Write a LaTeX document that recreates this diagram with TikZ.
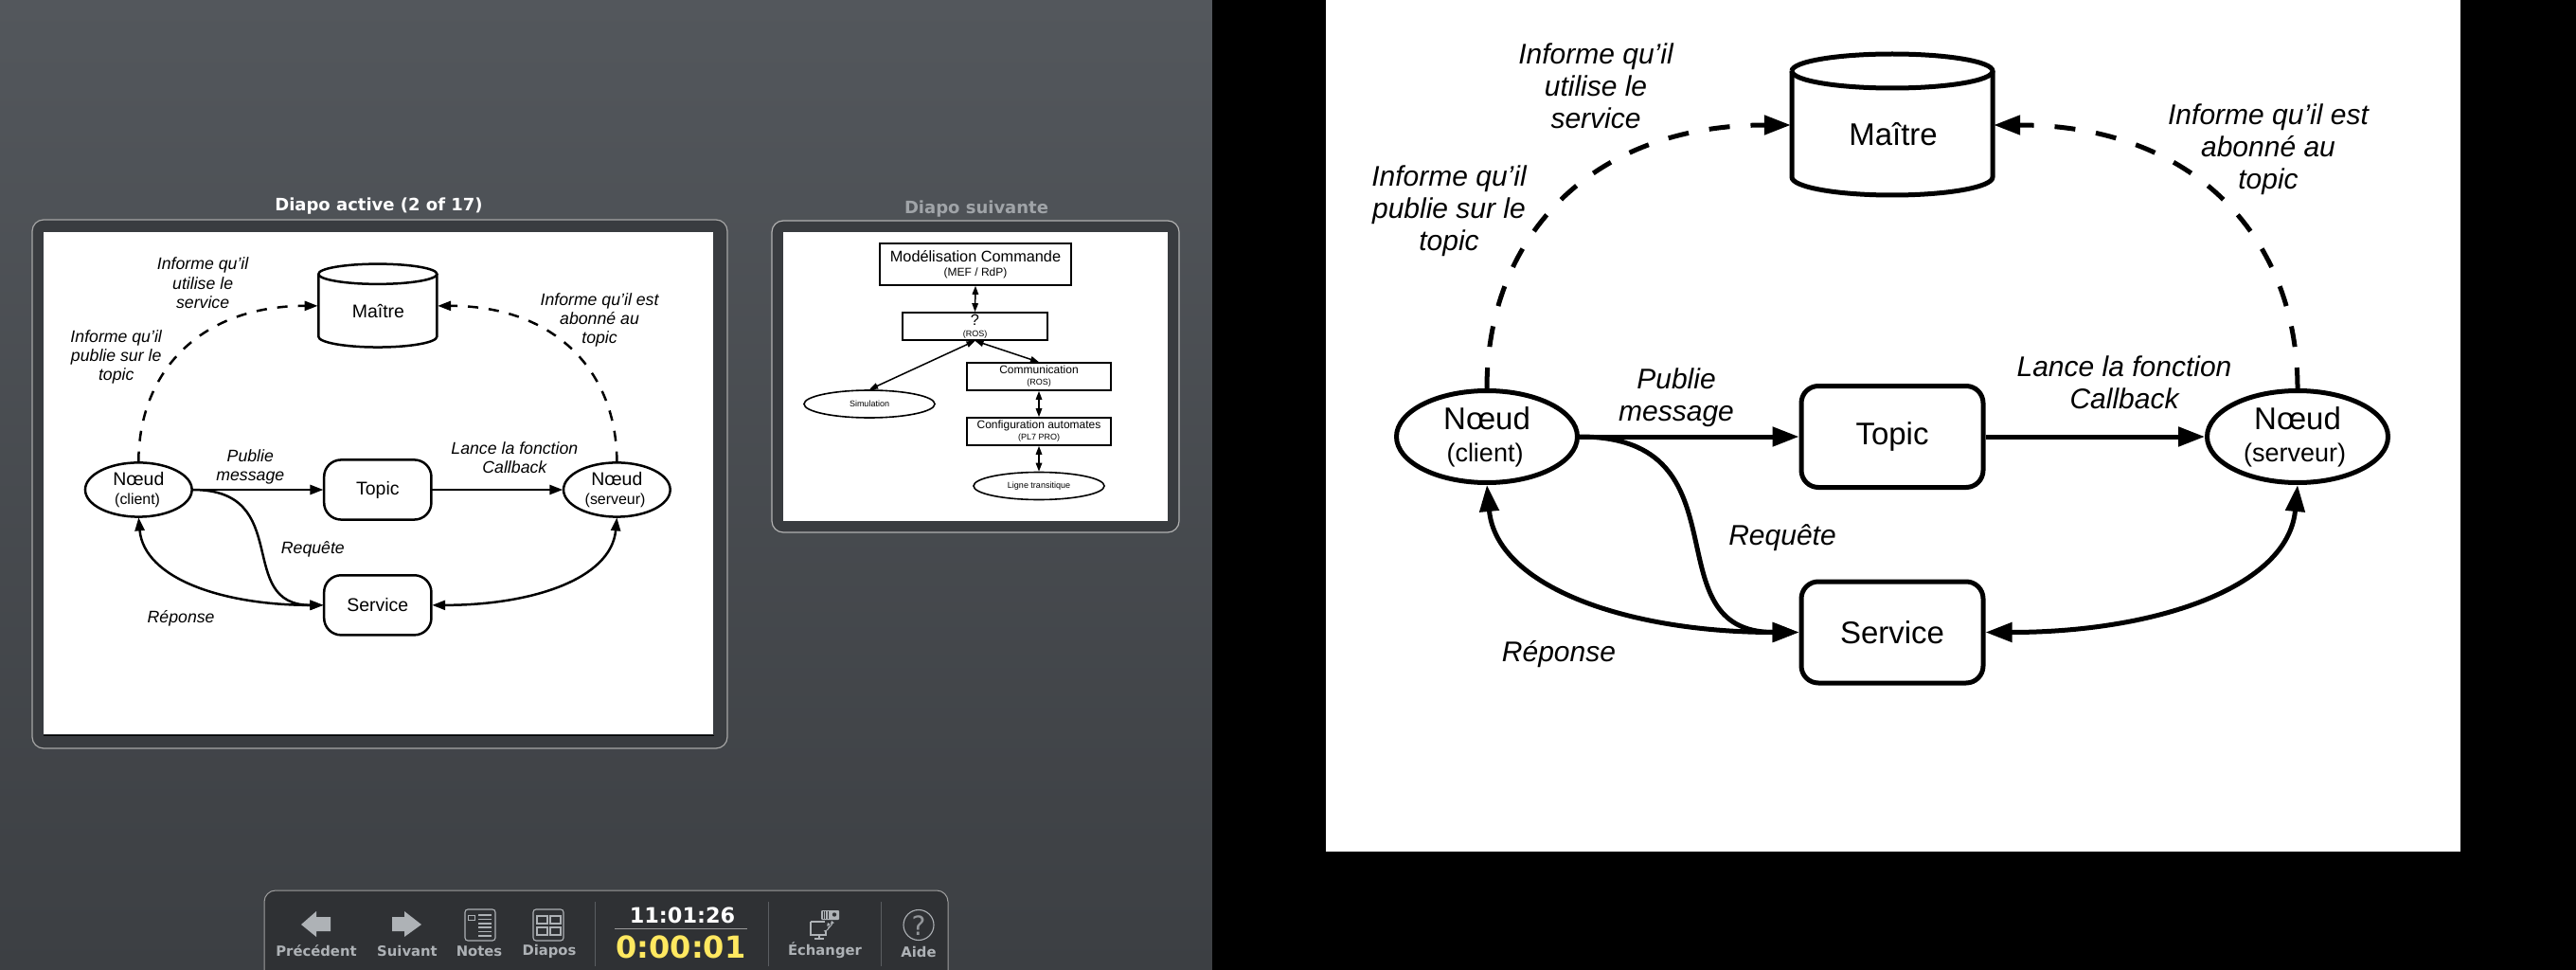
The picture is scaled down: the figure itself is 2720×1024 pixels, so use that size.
\documentclass[tikz,border=0pt]{standalone}
\usepackage{fontspec}
\setmainfont{Liberation Sans}
\newfontfamily\dv{DejaVu Sans}
\usetikzlibrary{arrows.meta,shapes.geometric}
\definecolor{bgtop}{HTML}{53575C}
\definecolor{bgbot}{HTML}{3C3F43}
\definecolor{framefill}{HTML}{393C40}
\definecolor{tbfill}{HTML}{2F3134}
\definecolor{tbgrey}{HTML}{AEB2B6}
\definecolor{tbsep}{HTML}{5A5D61}
\definecolor{clockyellow}{HTML}{FFE860}
\definecolor{nexttitle}{HTML}{A0A4A8}
\tikzset{
  frameA/.style={draw=#1,line width=1.2pt,fill=framefill,rounded corners=12pt},
  uititle/.style={font=\dv\bfseries\fontsize{18}{22}\selectfont,inner sep=0pt},
  tblabel/.style={font=\dv\bfseries\fontsize{14.8}{16}\selectfont,text=tbgrey,inner sep=0pt},
  tbsepline/.style={draw=tbsep,line width=1pt},
  tbicon/.style={draw=tbgrey,line width=1.1pt},
  tbshape/.style={fill=tbgrey,draw=none},
  itl/.style={font=\itshape\fontsize{30}{34}\selectfont,align=center,inner sep=0pt},
  nodetext/.style={font=\fontsize{33}{38}\selectfont,inner sep=0pt},
  nbox/.style={draw=black,fill=white,line width=1.6pt,align=center,inner sep=0pt},
  nell/.style={draw=black,fill=white,ellipse,line width=1.6pt,align=center,inner sep=0pt},
  nlink/.style={draw=black,line width=1.5pt,{Triangle[length=9pt,width=6.5pt]}-{Triangle[length=9pt,width=6.5pt]}}
}
\newcommand\bigsub[1]{\fontsize{27}{34}\selectfont #1}
\newcommand\slidecontent[2]{%
  \pgfmathsetmacro\mylw{5*#2}%
  \pgfmathsetmacro\mytl{28*#2}%
  \pgfmathsetmacro\mytw{20*#2}%
  \pgfmathsetmacro\myda{22*#2}%
  \begin{scope}[
    transform shape,
    >={Triangle[length=\mytl pt,width=\mytw pt]},
    shapeline/.style={draw=black,line width=\mylw pt},
    link/.style={draw=black,line width=\mylw pt,->},
    dlink/.style={draw=black,line width=\mylw pt,->,dash pattern=on \myda pt off \myda pt},
    blink/.style={draw=black,line width=\mylw pt,<->},
    rbox/.style={shapeline,rounded corners=18pt,minimum width=192pt,minimum height=107pt,nodetext},
    noeud/.style={shapeline,ellipse,minimum width=191pt,minimum height=97pt,align=center,inner sep=0pt,font=\fontsize{33}{34}\selectfont}]
    \fill[white] (0,0) rectangle (1198,899);
    % master cylinder
    \node[minimum width=214pt,minimum height=152pt,inner sep=0pt] (#1m) at (598,132) {};
    \draw[shapeline] (492,75) arc[start angle=180,end angle=540,x radius=106,y radius=18];
    \draw[shapeline] (492,75) -- (492,187) arc[start angle=180,end angle=0,x radius=106,y radius=19] -- (704,75);
    \node[nodetext] (#1mt) at (599,142) {Maître};
    \node[rbox] (#1t) at (598,461) {\raisebox{-2pt}{Topic}};
    \node[rbox] (#1s) at (598,667.5) {\raisebox{-1pt}{Service}};
    \node[noeud] (#1c) at (170,461) {\raisebox{-2pt}{Nœud}\\\raisebox{-2pt}{\kern-4pt\bigsub{(client)}}};
    \node[noeud] (#1r) at (1026,461) {\raisebox{-2pt}{Nœud}\\\raisebox{-2pt}{\kern-6pt\bigsub{(serveur)}}};
    \draw[dlink] (#1c.north) .. controls (170,250) and (280,132) .. (#1m.west);
    \draw[dlink] (#1r.north) .. controls (1026,250) and (916,132) .. (#1m.east);
    \draw[link] (#1c.east) -- (#1t.west);
    \draw[link] (#1t.east) -- (#1r.west);
    \draw[link] (#1c.east) .. controls (450,461) and (340,667.5) .. (#1s.west);
    \draw[blink] (#1c.south) .. controls (180,620) and (320,667.5) .. (#1s.west);
    \draw[blink] (#1r.south) .. controls (1016,620) and (876,667.5) .. (#1s.east);
    \node[itl] (#1l1) at (285,91) {Informe qu'il\\utilise le\\service};
    \node[itl] (#1l2) at (130,223) {Informe qu'il\\publie sur le\\topic};
    \node[itl] (#1l3) at (995,158) {Informe qu'il est\\abonné au\\topic};
    \node[itl] (#1l4) at (370,420) {Publie\\message};
    \node[itl] (#1l5) at (843,404) {Lance la fonction\\Callback};
    \node[itl] (#1l6) at (482,568) {Requête};
    \node[itl] (#1l7) at (246,691) {Réponse};
  \end{scope}}
\begin{document}
\begin{tikzpicture}[x=1pt,y=-1pt]
  \useasboundingbox (0,0) rectangle (2720,1024);
  \shade[top color=bgtop,bottom color=bgbot] (0,0) rectangle (1280,1024);
  \fill[black] (1280,0) rectangle (2720,1024);
  % current slide frame
  \draw[frameA={gray!70}] (34,232) rectangle (768,790);
  \node[uititle,text=white] (titleA) at (400,218) {Diapo active (2 of 17)};
  \begin{scope}[shift={(46,245)},scale=0.59]
    \slidecontent{a}{0.5}
  \end{scope}
  \draw[black,line width=1.4pt] (46,776.5) -- (754,776.5);
  % next slide frame
  \draw[frameA={gray!60}] (815,233) rectangle (1245,562);
  \node[uititle,text=nexttitle] (titleB) at (1031,221) {Diapo suivante};
  \fill[white] (827,245) rectangle (1233,550);
  \node[nbox,minimum width=202pt,minimum height=44pt] (b1) at (1030,279)
    {\fontsize{16.3}{16}\selectfont Modélisation Commande\\\raisebox{-3pt}{\fontsize{12}{14}\selectfont (MEF / RdP)}};
  \node[nbox,minimum width=153pt,minimum height=29pt] (b2) at (1029.5,344.5)
    {\fontsize{16.3}{14}\selectfont ?\\\fontsize{9}{10}\selectfont (ROS)};
  \node[nbox,minimum width=152pt,minimum height=29pt] (b3) at (1097,397.5)
    {\raisebox{-2pt}{\fontsize{12}{13}\selectfont Communication}\\\raisebox{-2pt}{\fontsize{9}{10}\selectfont (ROS)}};
  \node[nbox,minimum width=152pt,minimum height=29pt] (b4) at (1097,455.5)
    {\raisebox{-2pt}{\fontsize{12}{13}\selectfont Configuration automates}\\\raisebox{-2pt}{\fontsize{9}{10}\selectfont (PL7 PRO)}};
  \node[nell,minimum width=138pt,minimum height=29pt,font=\fontsize{9}{10}\selectfont] (b5) at (918,426.5) {Simulation};
  \node[nell,minimum width=138pt,minimum height=29pt,font=\fontsize{9}{10}\selectfont] (b6) at (1097,513) {Ligne transitique};
  \draw[nlink] (b1.south) -- (b2.north);
  \draw[nlink] (b2.south) -- (b5.north);
  \draw[nlink] (b2.south) -- (b3.north);
  \draw[nlink] (b3.south) -- (b4.north);
  \draw[nlink] (b4.south) -- (b6.north);
  % toolbar
  \draw[draw=gray!75,line width=1pt,fill=tbfill,rounded corners=12pt] (279,1030) -- (279,940) -- (1001,940) -- (1001,1030);
  \path[tbshape,fill=tbgrey] (318,976) -- (334,962) -- (334,968) -- (349,968) -- (349,983) -- (334,983) -- (334,989) -- cycle;
  \path[tbshape,fill=tbgrey] (445,976) -- (427,962) -- (427,968) -- (414,968) -- (414,983) -- (427,983) -- (427,989) -- cycle;
  \node[tblabel] (prev) at (334,1004) {Précédent};
  \node[tblabel] (next) at (430,1004) {Suivant};
  \node[tblabel] (notes) at (506,1004) {Notes};
  \node[tblabel] (diapos) at (580,1004.5) {Diapos};
  \draw[tbicon,rounded corners=3pt] (491,960) rectangle (523,993);
  \draw[tbicon,line width=0.9pt] (494,966) rectangle (501,971);
  \foreach \yy in {966,970.5,975,979,983.5,988} {\draw[tbgrey,line width=1.2pt] (505,\yy) -- (519,\yy);}
  \draw[tbicon,rounded corners=3pt] (563,960) rectangle (595,993);
  \draw[tbicon] (567,967) rectangle (578,975);
  \draw[tbicon] (581,967) rectangle (592,975);
  \draw[tbicon] (567,979) rectangle (578,987);
  \draw[tbicon] (581,979) rectangle (592,987);
  \draw[tbsepline] (628,952) -- (628,1020);
  \draw[tbsepline] (811,952) -- (811,1020);
  \draw[tbsepline] (930,952) -- (930,1020);
  \node[font=\dv\bfseries\fontsize{22.4}{24}\selectfont,text=white,inner sep=0pt] (clock) at (720.5,966) {11:01:26};
  \draw[draw=gray!80,line width=1pt] (649,980) -- (789,980);
  \node[font=\dv\bfseries\fontsize{32}{34}\selectfont,text=clockyellow,inner sep=0pt] (timer) at (719,1000) {0:00:01};
  % swap icon
  \fill[tbgrey,rounded corners=1pt] (867,961) rectangle (886,971);
  \foreach \xx in {869,871.5,874} {\draw[tbfill,line width=0.7pt] (\xx,962) -- (\xx,970);}
  \fill[tbfill] (881,965.5) circle (2.2);
  \draw[tbicon,line width=1.4pt] (856,973) -- (871,973) (856,973) -- (856,987) -- (872,987) -- (872,983);
  \draw[tbicon,line width=1.4pt] (865,987) -- (865,991);
  \draw[tbicon,line width=1.4pt] (860,991) -- (870,991);
  \draw[tbicon,-{Triangle[length=3pt,width=4pt]},line width=1pt] (870,983) .. controls (874,983) and (876,979) .. (874,974);
  \draw[tbicon,-{Triangle[length=3pt,width=4pt]},line width=1pt] (875,980) .. controls (877,978) and (879,975) .. (878,972);
  \node[tblabel] (swap) at (871,1003) {Échanger};
  \draw[tbicon] (970,976.5) circle (16);
  \node[font=\dv\fontsize{28}{30}\selectfont,text=tbgrey!85!black,inner sep=0pt] (q) at (970,977) {?};
  \node[tblabel] (help) at (970,1005) {Aide};
  % main view
  \begin{scope}[shift={(1400,0)}]
    \slidecontent{z}{1}
  \end{scope}
\end{tikzpicture}
\end{document}
